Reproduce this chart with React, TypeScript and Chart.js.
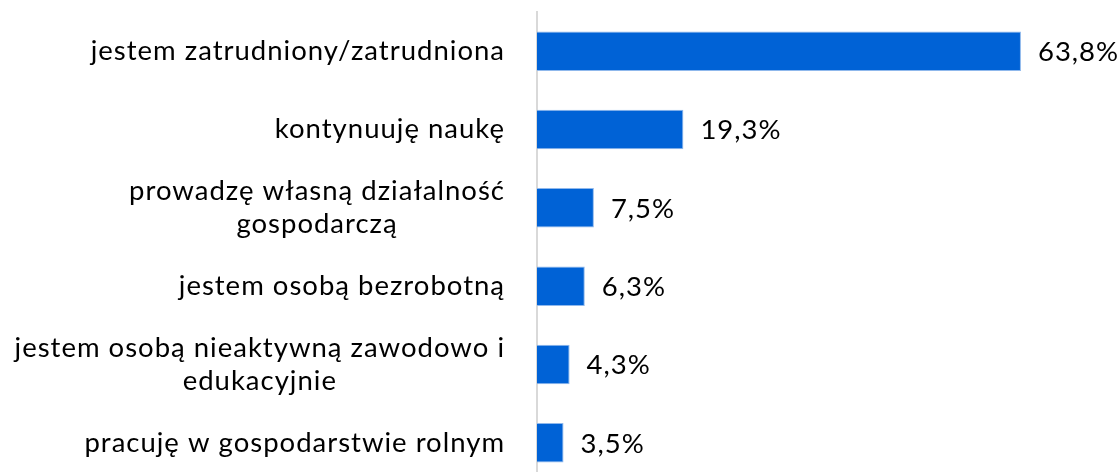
import React, { useEffect, useRef } from "react";
import { Chart, registerables } from "chart.js";

Chart.register(...registerables);

const categories: string[][] = [
  ["jestem zatrudniony/zatrudniona"],
  ["kontynuuję naukę"],
  ["prowadzę własną działalność", "gospodarczą"],
  ["jestem osobą bezrobotną"],
  ["jestem osobą nieaktywną zawodowo i", "edukacyjnie"],
  ["pracuję w gospodarstwie rolnym"],
];
const values: number[] = [63.8, 19.3, 7.5, 6.3, 4.3, 3.5];
const valueLabels: string[] = ["63,8%", "19,3%", "7,5%", "6,3%", "4,3%", "3,5%"];

const FONT = "Lato, 'Open Sans', sans-serif";
const FONT_SIZE = 27.5;

export default function App() {
  const ref = useRef<HTMLCanvasElement | null>(null);

  useEffect(() => {
    if (!ref.current) return;
    const labelPlugin = {
      id: "customLabels",
      afterDraw(chart: any) {
        const ctx = chart.ctx;
        const y = chart.scales.y;
        const meta = chart.getDatasetMeta(0);
        ctx.save();
        ctx.font = `${FONT_SIZE}px ${FONT}`;
        (ctx as any).letterSpacing = "1px";
        ctx.fillStyle = "#000";
        ctx.textBaseline = "middle";
        const lineH = 33;
        const rightX = 505;
        categories.forEach((lines, i) => {
          const cy = y.getPixelForValue(i);
          const maxW = Math.max(...lines.map((l) => ctx.measureText(l).width));
          const cx = rightX - maxW / 2;
          ctx.textAlign = "center";
          lines.forEach((l, j) => {
            ctx.fillText(l, cx, cy + (j - (lines.length - 1) / 2) * lineH);
          });
        });
        ctx.textAlign = "left";
        meta.data.forEach((bar: any, i: number) => {
          ctx.fillText(valueLabels[i], bar.x + 17, bar.y + 1);
        });
        ctx.restore();
      },
    };
    const chart = new Chart(ref.current, {
      type: "bar",
      data: {
        labels: categories.map((c) => c.join(" ")),
        datasets: [
          {
            data: values,
            backgroundColor: "#0062D6",
            borderColor: "#8FB8EC",
            borderWidth: 1,
            categoryPercentage: 1,
            barPercentage: 0.505,
          },
        ],
      },
      options: {
        indexAxis: "y",
        responsive: false,
        animation: false,
        layout: { padding: { top: 12, right: 52, left: 0, bottom: 0 } },
        plugins: { legend: { display: false }, tooltip: { enabled: false } },
        scales: {
          x: { display: false, min: 0, max: 70 },
          y: {
            ticks: { display: false },
            grid: { display: false },
            border: { display: true, color: "#D9D9D9", width: 2 },
            afterFit: (s: any) => {
              s.width = 537;
            },
          },
        },
      },
      plugins: [labelPlugin],
    });
    return () => chart.destroy();
  }, []);

  return (
    <div style={{ position: "fixed", left: 0, top: 0, width: 1120, height: 482, background: "#fff" }}>
      <canvas ref={ref} width={1120} height={482} />
    </div>
  );
}
